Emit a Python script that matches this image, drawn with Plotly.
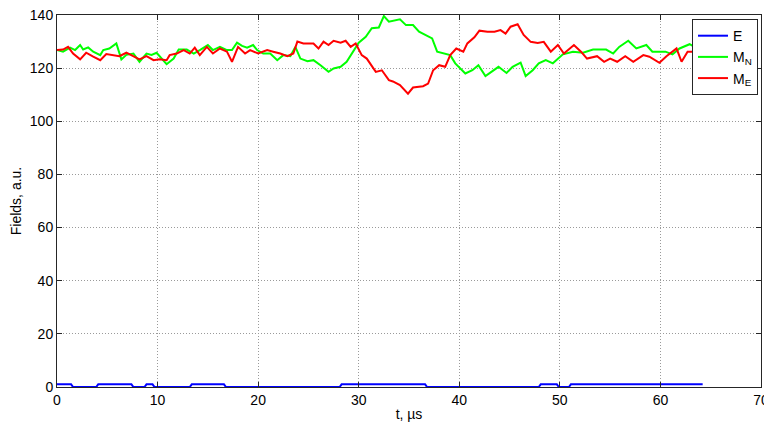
import plotly.graph_objects as go

# E trace (step levels)
t_E = [0, 1.4, 1.6, 3.9, 4.1, 7.4, 7.6, 8.7, 8.9, 9.5, 9.7, 13.2, 13.4, 16.6, 16.8,
       28.1, 28.3, 36.6, 36.8, 47.9, 48.1, 49.7, 49.9, 50.9, 51.1, 64.2]
E = [1, 1, 0, 0, 1, 1, 0, 0, 1, 1, 0, 0, 1, 1, 0,
     0, 1, 1, 0, 0, 1, 1, 0, 0, 1, 1]

t_MN = [0, 0.6, 1.3, 1.8, 2.3, 2.6, 3.1, 3.6, 4.3, 4.6, 5.2, 5.9, 6.4, 6.9, 7.6, 8.2, 8.9, 9.4, 9.9,
        10.6, 10.9, 11.6, 12.1, 12.9, 13.6, 14.2, 15.0, 15.5, 16.2, 16.9, 17.4, 17.9, 18.4, 18.9,
        19.5, 19.9, 20.5, 21.2, 21.9, 22.5, 23.2, 23.7, 24.2, 24.9, 25.5, 26.2, 27.0, 27.5, 28.2,
        28.8, 29.3, 30.0, 30.7, 31.3, 32.0, 32.5, 33.0, 33.4, 34.1, 34.7, 35.4, 36.0, 36.7, 37.3,
        37.8, 38.5, 39.1, 39.6, 40.6, 41.3, 41.9, 42.6, 43.2, 43.9, 44.7, 45.3, 46.1, 46.6, 47.3,
        47.9, 48.6, 49.3, 50.3, 51.3, 52.3, 53.3, 54.6, 55.3, 55.9, 56.8, 57.6, 58.6, 59.2, 60.5,
        61.2, 61.9, 62.9, 63.4, 63.9]
MN = [126.8, 126.2, 127.7, 126.8, 128.7, 127, 127.8, 126.2, 124.9, 126.8, 127.4, 129.3, 123.3, 125,
      125.5, 122.4, 125.5, 125, 125.8, 123, 121.5, 123.6, 127, 127, 125.5, 126.8, 128.7, 126.8, 128,
      126.8, 126.8, 129.6, 128.4, 127.7, 128.7, 126.8, 125.5, 125.5, 123, 124.9, 124.5, 128, 123.6,
      122.6, 123, 121.1, 118.6, 119.9, 120.5, 122.4, 125.5, 129.6, 131.8, 135, 135.3, 139.6, 137.5,
      137.8, 138.4, 136.2, 136.2, 133.7, 132.5, 131.2, 126.2, 125.5, 124.9, 121.8, 118, 119.2, 121.1,
      117, 118.6, 120.5, 118.2, 120.5, 122.1, 117, 119.2, 121.8, 123, 121.8, 125.2, 126.2, 125.8,
      127, 127, 125.5, 128, 130.3, 127.4, 128.7, 126.2, 126.2, 125.2, 127.4, 129, 128, 124.3]

t_ME = [0, 0.6, 1.1, 1.6, 2.3, 2.9, 3.6, 4.3, 4.9, 5.6, 6.2, 6.9, 7.6, 8.2, 8.9, 9.6, 10.2, 10.9,
        11.2, 11.9, 12.6, 13.2, 13.7, 14.2, 14.9, 15.5, 16.2, 16.9, 17.4, 18.0, 18.7, 19.2, 20.0,
        20.9, 21.5, 22.2, 22.9, 23.5, 23.9, 24.5, 25.5, 26.0, 26.5, 27.0, 27.5, 28.2, 28.7, 29.2,
        29.7, 30.3, 30.8, 31.7, 32.3, 33.0, 33.4, 34.1, 34.9, 35.4, 36.4, 36.9, 37.4, 38.0, 38.6,
        39.1, 39.7, 40.4, 40.8, 41.5, 42.0, 42.8, 43.5, 44.1, 44.6, 45.1, 45.8, 46.4, 47.1, 47.8,
        48.4, 49.1, 49.8, 50.4, 51.4, 52.1, 52.7, 53.7, 54.4, 55.0, 55.7, 56.5, 57.3, 58.3, 58.9,
        59.9, 60.6, 61.6, 62.1, 62.7, 63.2, 63.6]
ME = [126.8, 127, 128, 125.5, 123.3, 125.8, 124.3, 123, 125.3, 124.9, 124.5, 125.8, 124.3, 123.3,
      124.5, 123, 123.3, 123, 124.9, 125.5, 126.8, 125.5, 127.7, 124.9, 128, 125.5, 127.4, 126.2,
      122.4, 128, 125.5, 126.8, 125.5, 126.8, 126.2, 125.5, 124.5, 125.5, 130, 129.3, 129.3, 127.4,
      130, 128.7, 130.3, 129.6, 130.3, 128, 129.3, 124.9, 123.6, 118.6, 119.2, 115.5, 115, 113.6,
      110.4, 112.7, 113.2, 114.2, 119.2, 121.1, 120.5, 124.9, 127.4, 126.2, 129.3, 131.6, 134.1,
      133.7, 133.7, 134.3, 133, 135.6, 136.5, 132.5, 129.9, 129.5, 129.9, 126.2, 128.7, 125.5,
      128.7, 126.2, 123.6, 124.5, 122.4, 123.6, 122.4, 124.5, 122.4, 124.9, 124.3, 122, 124.5,
      127.4, 122.4, 126.2, 126.2, 124.3]

x_ticks = [0, 10, 20, 30, 40, 50, 60, 70]
y_ticks = [0, 20, 40, 60, 80, 100, 120, 140]

font = "Liberation Sans, Arial, Helvetica, sans-serif"

fig = go.Figure()
fig.add_trace(go.Scatter(x=t_E, y=E, mode="lines", name="E",
                         line=dict(color="#0000FF", width=2)))
fig.add_trace(go.Scatter(x=t_MN, y=MN, mode="lines", name="M<sub>N</sub>",
                         line=dict(color="#00FF00", width=2)))
fig.add_trace(go.Scatter(x=t_ME, y=ME, mode="lines", name="M<sub>E</sub>",
                         line=dict(color="#FF0000", width=2)))

axis_common = dict(
    showline=True, linecolor="#262626", linewidth=1, mirror="ticks",
    ticks="inside", ticklen=5, tickcolor="#262626",
    showgrid=True, gridcolor="#9a9a9a", griddash="1px,2px", gridwidth=1,
    zeroline=False, automargin=False, ticklabeloverflow="allow",
    tickfont=dict(family=font, size=14, color="#000"),
)

# page body has an 8px margin; figure is sized so plot area lands at x 57-761, y 15-387
fig.update_layout(
    width=764, height=415,
    margin=dict(l=49, r=11, t=7, b=36),
    paper_bgcolor="white", plot_bgcolor="white",
    font=dict(family=font, size=14, color="#000"),
    xaxis=dict(range=[0, 70], tickvals=x_ticks,
               title=dict(text="t, µs", standoff=2, font=dict(size=14)),
               **axis_common),
    yaxis=dict(range=[0, 140], tickvals=y_ticks,
               title=dict(text="Fields, a.u.", standoff=10, font=dict(size=14)),
               **axis_common),
    legend=dict(x=0.9957, y=0.989, xanchor="right", yanchor="top",
                bgcolor="white", bordercolor="#262626", borderwidth=1,
                font=dict(family=font, size=14), tracegroupgap=0,
                itemwidth=30),
    showlegend=True,
)

fig.write_html("out.html")
